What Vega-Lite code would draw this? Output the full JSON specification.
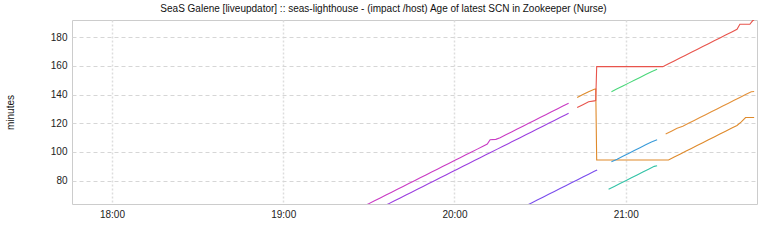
{
  "$schema": "https://vega.github.io/schema/vega-lite/v6.json",
  "width": 685,
  "height": 184,
  "autosize": "none",
  "padding": {"left": 72, "top": 20, "right": 10, "bottom": 41},
  "background": "white",
  "title": {
    "text": "SeaS Galene [liveupdator] :: seas-lighthouse - (impact /host) Age of latest SCN in Zookeeper (Nurse)",
    "font": "Liberation Sans",
    "fontSize": 10,
    "fontWeight": "normal",
    "color": "#111111",
    "anchor": "middle",
    "frame": "group",
    "dx": -31,
    "offset": 6
  },
  "config": {
    "view": {"stroke": "#cccccc", "strokeWidth": 1},
    "axis": {
      "labelFont": "Liberation Sans",
      "labelFontSize": 10,
      "labelColor": "#222222",
      "titleFont": "Liberation Sans",
      "titleFontSize": 10,
      "titleFontWeight": "normal",
      "titleColor": "#111111",
      "ticks": false,
      "domain": false
    }
  },
  "data": {
    "values": [
      {"s": "A", "t": "2024-01-01T19:28:00", "v": 62},
      {"s": "A", "t": "2024-01-01T19:30:00", "v": 64},
      {"s": "A", "t": "2024-01-01T19:32:00", "v": 66},
      {"s": "A", "t": "2024-01-01T19:34:00", "v": 68},
      {"s": "A", "t": "2024-01-01T19:36:00", "v": 70},
      {"s": "A", "t": "2024-01-01T19:38:00", "v": 72},
      {"s": "A", "t": "2024-01-01T19:40:00", "v": 74},
      {"s": "A", "t": "2024-01-01T19:42:00", "v": 76},
      {"s": "A", "t": "2024-01-01T19:44:00", "v": 78},
      {"s": "A", "t": "2024-01-01T19:46:00", "v": 80},
      {"s": "A", "t": "2024-01-01T19:48:00", "v": 82},
      {"s": "A", "t": "2024-01-01T19:50:00", "v": 84},
      {"s": "A", "t": "2024-01-01T19:52:00", "v": 86},
      {"s": "A", "t": "2024-01-01T19:54:00", "v": 88},
      {"s": "A", "t": "2024-01-01T19:56:00", "v": 90},
      {"s": "A", "t": "2024-01-01T19:58:00", "v": 92},
      {"s": "A", "t": "2024-01-01T20:00:00", "v": 94},
      {"s": "A", "t": "2024-01-01T20:02:00", "v": 96},
      {"s": "A", "t": "2024-01-01T20:04:00", "v": 98},
      {"s": "A", "t": "2024-01-01T20:06:00", "v": 100},
      {"s": "A", "t": "2024-01-01T20:08:00", "v": 102},
      {"s": "A", "t": "2024-01-01T20:10:00", "v": 104},
      {"s": "A", "t": "2024-01-01T20:11:30", "v": 105.5},
      {"s": "A", "t": "2024-01-01T20:12:30", "v": 108.5},
      {"s": "A", "t": "2024-01-01T20:14:30", "v": 108.8},
      {"s": "A", "t": "2024-01-01T20:16:00", "v": 110},
      {"s": "A", "t": "2024-01-01T20:18:00", "v": 112},
      {"s": "A", "t": "2024-01-01T20:20:00", "v": 114},
      {"s": "A", "t": "2024-01-01T20:22:00", "v": 116},
      {"s": "A", "t": "2024-01-01T20:24:00", "v": 118},
      {"s": "A", "t": "2024-01-01T20:26:00", "v": 120},
      {"s": "A", "t": "2024-01-01T20:28:00", "v": 122},
      {"s": "A", "t": "2024-01-01T20:30:00", "v": 124},
      {"s": "A", "t": "2024-01-01T20:32:00", "v": 126},
      {"s": "A", "t": "2024-01-01T20:34:00", "v": 128},
      {"s": "A", "t": "2024-01-01T20:36:00", "v": 130},
      {"s": "A", "t": "2024-01-01T20:38:00", "v": 132},
      {"s": "A", "t": "2024-01-01T20:40:00", "v": 134},
      {"s": "B", "t": "2024-01-01T19:35:00", "v": 62},
      {"s": "B", "t": "2024-01-01T19:37:00", "v": 64},
      {"s": "B", "t": "2024-01-01T19:39:00", "v": 66},
      {"s": "B", "t": "2024-01-01T19:41:00", "v": 68},
      {"s": "B", "t": "2024-01-01T19:43:00", "v": 70},
      {"s": "B", "t": "2024-01-01T19:45:00", "v": 72},
      {"s": "B", "t": "2024-01-01T19:47:00", "v": 74},
      {"s": "B", "t": "2024-01-01T19:49:00", "v": 76},
      {"s": "B", "t": "2024-01-01T19:51:00", "v": 78},
      {"s": "B", "t": "2024-01-01T19:53:00", "v": 80},
      {"s": "B", "t": "2024-01-01T19:55:00", "v": 82},
      {"s": "B", "t": "2024-01-01T19:57:00", "v": 84},
      {"s": "B", "t": "2024-01-01T19:59:00", "v": 86},
      {"s": "B", "t": "2024-01-01T20:01:00", "v": 88},
      {"s": "B", "t": "2024-01-01T20:03:00", "v": 90},
      {"s": "B", "t": "2024-01-01T20:05:00", "v": 92},
      {"s": "B", "t": "2024-01-01T20:07:00", "v": 94},
      {"s": "B", "t": "2024-01-01T20:09:00", "v": 96},
      {"s": "B", "t": "2024-01-01T20:11:00", "v": 98},
      {"s": "B", "t": "2024-01-01T20:13:00", "v": 100},
      {"s": "B", "t": "2024-01-01T20:15:00", "v": 102},
      {"s": "B", "t": "2024-01-01T20:17:00", "v": 104},
      {"s": "B", "t": "2024-01-01T20:19:00", "v": 106},
      {"s": "B", "t": "2024-01-01T20:21:00", "v": 108},
      {"s": "B", "t": "2024-01-01T20:23:00", "v": 110},
      {"s": "B", "t": "2024-01-01T20:25:00", "v": 112},
      {"s": "B", "t": "2024-01-01T20:27:00", "v": 114},
      {"s": "B", "t": "2024-01-01T20:29:00", "v": 116},
      {"s": "B", "t": "2024-01-01T20:31:00", "v": 118},
      {"s": "B", "t": "2024-01-01T20:33:00", "v": 120},
      {"s": "B", "t": "2024-01-01T20:35:00", "v": 122},
      {"s": "B", "t": "2024-01-01T20:37:00", "v": 124},
      {"s": "B", "t": "2024-01-01T20:39:00", "v": 126},
      {"s": "B", "t": "2024-01-01T20:40:00", "v": 127},
      {"s": "C", "t": "2024-01-01T20:25:00", "v": 62.5},
      {"s": "C", "t": "2024-01-01T20:27:00", "v": 64.5},
      {"s": "C", "t": "2024-01-01T20:29:00", "v": 66.5},
      {"s": "C", "t": "2024-01-01T20:31:00", "v": 68.5},
      {"s": "C", "t": "2024-01-01T20:33:00", "v": 70.5},
      {"s": "C", "t": "2024-01-01T20:35:00", "v": 72.5},
      {"s": "C", "t": "2024-01-01T20:37:00", "v": 74.5},
      {"s": "C", "t": "2024-01-01T20:39:00", "v": 76.5},
      {"s": "C", "t": "2024-01-01T20:41:00", "v": 78.5},
      {"s": "C", "t": "2024-01-01T20:43:00", "v": 80.5},
      {"s": "C", "t": "2024-01-01T20:45:00", "v": 82.5},
      {"s": "C", "t": "2024-01-01T20:47:00", "v": 84.5},
      {"s": "C", "t": "2024-01-01T20:49:00", "v": 86.5},
      {"s": "C", "t": "2024-01-01T20:50:00", "v": 87.5},
      {"s": "G", "t": "2024-01-01T20:43:00", "v": 138},
      {"s": "G", "t": "2024-01-01T20:45:00", "v": 140},
      {"s": "G", "t": "2024-01-01T20:47:00", "v": 142},
      {"s": "G", "t": "2024-01-01T20:49:00", "v": 143.7},
      {"s": "G", "t": "2024-01-01T20:49:30", "v": 143.9},
      {"s": "G", "t": "2024-01-01T20:49:50", "v": 94.4},
      {"s": "G", "t": "2024-01-01T21:15:00", "v": 94.4},
      {"s": "G", "t": "2024-01-01T21:17:00", "v": 96.5},
      {"s": "G", "t": "2024-01-01T21:19:00", "v": 98.5},
      {"s": "G", "t": "2024-01-01T21:21:00", "v": 100.5},
      {"s": "G", "t": "2024-01-01T21:23:00", "v": 102.5},
      {"s": "G", "t": "2024-01-01T21:25:00", "v": 104.5},
      {"s": "G", "t": "2024-01-01T21:27:00", "v": 106.5},
      {"s": "G", "t": "2024-01-01T21:29:00", "v": 108.5},
      {"s": "G", "t": "2024-01-01T21:31:00", "v": 110.5},
      {"s": "G", "t": "2024-01-01T21:33:00", "v": 112.5},
      {"s": "G", "t": "2024-01-01T21:35:00", "v": 114.5},
      {"s": "G", "t": "2024-01-01T21:37:00", "v": 116.5},
      {"s": "G", "t": "2024-01-01T21:39:00", "v": 118.5},
      {"s": "G", "t": "2024-01-01T21:40:30", "v": 121},
      {"s": "G", "t": "2024-01-01T21:42:00", "v": 124},
      {"s": "G", "t": "2024-01-01T21:45:00", "v": 124},
      {"s": "E", "t": "2024-01-01T20:43:00", "v": 131},
      {"s": "E", "t": "2024-01-01T20:45:00", "v": 133},
      {"s": "E", "t": "2024-01-01T20:47:00", "v": 135},
      {"s": "E", "t": "2024-01-01T20:49:00", "v": 135.6},
      {"s": "E", "t": "2024-01-01T20:49:30", "v": 136},
      {"s": "E", "t": "2024-01-01T20:49:50", "v": 159.5},
      {"s": "E", "t": "2024-01-01T21:13:00", "v": 159.5},
      {"s": "E", "t": "2024-01-01T21:15:00", "v": 161.5},
      {"s": "E", "t": "2024-01-01T21:17:00", "v": 163.5},
      {"s": "E", "t": "2024-01-01T21:19:00", "v": 165.5},
      {"s": "E", "t": "2024-01-01T21:21:00", "v": 167.5},
      {"s": "E", "t": "2024-01-01T21:23:00", "v": 169.5},
      {"s": "E", "t": "2024-01-01T21:25:00", "v": 171.5},
      {"s": "E", "t": "2024-01-01T21:27:00", "v": 173.5},
      {"s": "E", "t": "2024-01-01T21:29:00", "v": 175.5},
      {"s": "E", "t": "2024-01-01T21:31:00", "v": 177.5},
      {"s": "E", "t": "2024-01-01T21:33:00", "v": 179.5},
      {"s": "E", "t": "2024-01-01T21:35:00", "v": 181.5},
      {"s": "E", "t": "2024-01-01T21:37:00", "v": 183.5},
      {"s": "E", "t": "2024-01-01T21:39:00", "v": 185.5},
      {"s": "E", "t": "2024-01-01T21:40:00", "v": 189},
      {"s": "E", "t": "2024-01-01T21:43:30", "v": 189},
      {"s": "E", "t": "2024-01-01T21:44:30", "v": 191.6},
      {"s": "E", "t": "2024-01-01T21:45:00", "v": 191.8},
      {"s": "H", "t": "2024-01-01T20:55:00", "v": 142},
      {"s": "H", "t": "2024-01-01T20:57:00", "v": 144},
      {"s": "H", "t": "2024-01-01T20:59:00", "v": 146},
      {"s": "H", "t": "2024-01-01T21:01:00", "v": 148},
      {"s": "H", "t": "2024-01-01T21:03:00", "v": 150},
      {"s": "H", "t": "2024-01-01T21:05:00", "v": 152},
      {"s": "H", "t": "2024-01-01T21:07:00", "v": 154},
      {"s": "H", "t": "2024-01-01T21:09:00", "v": 156},
      {"s": "H", "t": "2024-01-01T21:11:00", "v": 157.7},
      {"s": "I", "t": "2024-01-01T20:55:00", "v": 93.2},
      {"s": "I", "t": "2024-01-01T20:57:00", "v": 95},
      {"s": "I", "t": "2024-01-01T20:59:00", "v": 97},
      {"s": "I", "t": "2024-01-01T21:01:00", "v": 99},
      {"s": "I", "t": "2024-01-01T21:03:00", "v": 101},
      {"s": "I", "t": "2024-01-01T21:05:00", "v": 103},
      {"s": "I", "t": "2024-01-01T21:07:00", "v": 105},
      {"s": "I", "t": "2024-01-01T21:09:00", "v": 107},
      {"s": "I", "t": "2024-01-01T21:11:00", "v": 108.6},
      {"s": "J", "t": "2024-01-01T20:54:00", "v": 74},
      {"s": "J", "t": "2024-01-01T20:56:00", "v": 76},
      {"s": "J", "t": "2024-01-01T20:58:00", "v": 78},
      {"s": "J", "t": "2024-01-01T21:00:00", "v": 80},
      {"s": "J", "t": "2024-01-01T21:02:00", "v": 82},
      {"s": "J", "t": "2024-01-01T21:04:00", "v": 84},
      {"s": "J", "t": "2024-01-01T21:06:00", "v": 86},
      {"s": "J", "t": "2024-01-01T21:08:00", "v": 88},
      {"s": "J", "t": "2024-01-01T21:10:00", "v": 90},
      {"s": "J", "t": "2024-01-01T21:11:00", "v": 90.4},
      {"s": "K", "t": "2024-01-01T21:14:00", "v": 112.6},
      {"s": "K", "t": "2024-01-01T21:16:00", "v": 114.5},
      {"s": "K", "t": "2024-01-01T21:18:00", "v": 116.5},
      {"s": "K", "t": "2024-01-01T21:20:00", "v": 118},
      {"s": "K", "t": "2024-01-01T21:22:00", "v": 120},
      {"s": "K", "t": "2024-01-01T21:24:00", "v": 122},
      {"s": "K", "t": "2024-01-01T21:26:00", "v": 124},
      {"s": "K", "t": "2024-01-01T21:28:00", "v": 126},
      {"s": "K", "t": "2024-01-01T21:30:00", "v": 128},
      {"s": "K", "t": "2024-01-01T21:32:00", "v": 130},
      {"s": "K", "t": "2024-01-01T21:34:00", "v": 132},
      {"s": "K", "t": "2024-01-01T21:36:00", "v": 134},
      {"s": "K", "t": "2024-01-01T21:38:00", "v": 136},
      {"s": "K", "t": "2024-01-01T21:40:00", "v": 138},
      {"s": "K", "t": "2024-01-01T21:42:00", "v": 140},
      {"s": "K", "t": "2024-01-01T21:44:00", "v": 142},
      {"s": "K", "t": "2024-01-01T21:45:00", "v": 142.2}
    ]
  },
  "mark": {"type": "line", "interpolate": "linear", "strokeWidth": 1.1, "clip": true},
  "encoding": {
    "x": {
      "field": "t",
      "type": "temporal",
      "scale": {"domain": [
        {"year": 2024, "month": 1, "date": 1, "hours": 17, "minutes": 46},
        {"year": 2024, "month": 1, "date": 1, "hours": 21, "minutes": 46}
      ]},
      "axis": {
        "title": null,
        "format": "%H:%M",
        "values": [
          {"year": 2024, "month": 1, "date": 1, "hours": 18},
          {"year": 2024, "month": 1, "date": 1, "hours": 19},
          {"year": 2024, "month": 1, "date": 1, "hours": 20},
          {"year": 2024, "month": 1, "date": 1, "hours": 21}
        ],
        "labelPadding": 5,
        "gridDash": [2, 2],
        "gridColor": "#dddddd",
        "gridWidth": 1.5
      }
    },
    "y": {
      "field": "v",
      "type": "quantitative",
      "scale": {"domain": [63.75, 192], "nice": false, "zero": false},
      "axis": {
        "title": "minutes",
        "values": [80, 100, 120, 140, 160, 180],
        "labelPadding": 5,
        "titlePadding": 35,
        "gridDash": [4, 3],
        "gridColor": "#d6d6d6",
        "gridWidth": 1
      }
    },
    "color": {
      "field": "s",
      "type": "nominal",
      "scale": {
        "domain": ["A", "B", "C", "G", "E", "H", "I", "J", "K"],
        "range": ["#c93cc4", "#9c3fdf", "#7a4ded", "#df8a2b", "#e8544c", "#4ad77a", "#3a9bd9", "#33c3a7", "#e39038"]
      },
      "legend": null
    }
  }
}
